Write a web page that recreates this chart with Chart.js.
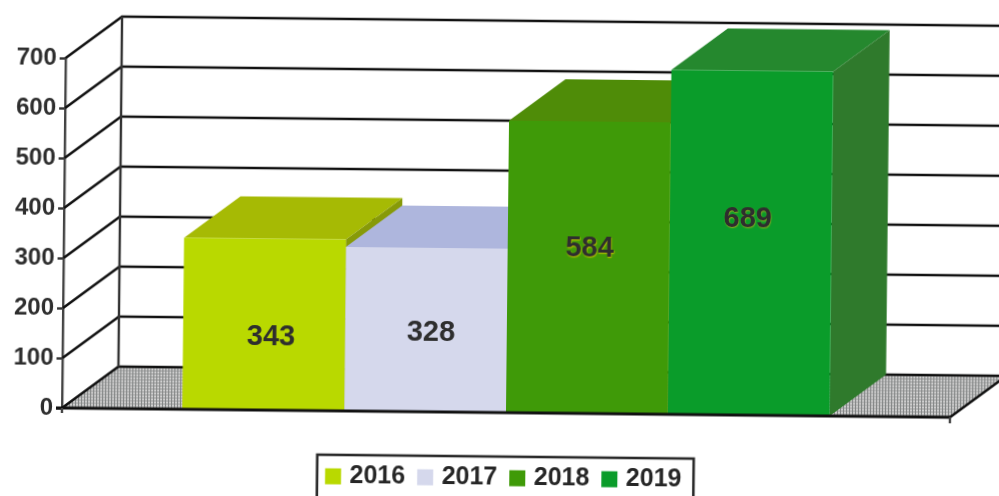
<!DOCTYPE html>
<html><head><meta charset="utf-8">
<style>
html,body{margin:0;padding:0;background:#fff;width:999px;height:496px;overflow:hidden}
#wrap{position:absolute;left:0;top:0;width:999px;height:496px;overflow:hidden}
canvas{position:absolute;left:0;top:0;transform-origin:62px 407px;transform:rotate(0.6deg);filter:blur(0.4px)}
</style>
<script src="https://cdn.jsdelivr.net/npm/chart.js@4"></script>
</head><body><div id="wrap"><canvas id="c" width="1020" height="540" style="width:1020px;height:540px"></canvas></div>
<script>
const categories = ['Total'];
const years = ['2016', '2017', '2018', '2019'];
const values = [343, 328, 584, 689];
const tickValues = [0, 100, 200, 300, 400, 500, 600, 700];
const frontColors = ['#b9d900', '#d5d8ec', '#3f9a08', '#0a9c2a'];
const topColors = ['#a6ba04', '#aeb6dd', '#4f8c08', '#25882e'];
const sideColors = ['#879a08', '#9aa2cc', '#3e7a08', '#2f7a2c'];
const labelShift = [[7, 13], [5, 3], [1, -19], [-3, -24]];
const labelGlow = [null, null, '#c9c400', '#8fae20'];
const DEPTH_X = 56, DEPTH_Y = -42;
const INK = '#111';

function floorPattern(ctx) {
  const p = document.createElement('canvas'); p.width = 3; p.height = 3;
  const g = p.getContext('2d');
  g.fillStyle = '#b4b4b4'; g.fillRect(0, 0, 3, 3);
  g.fillStyle = '#828585'; g.fillRect(0, 0, 1, 3);
  g.fillStyle = '#d2d2d2'; g.fillRect(1, 2, 2, 1);
  return ctx.createPattern(p, 'repeat');
}
function poly(ctx, pts, fill) {
  ctx.beginPath(); pts.forEach((q, i) => i ? ctx.lineTo(q[0], q[1]) : ctx.moveTo(q[0], q[1]));
  ctx.closePath(); ctx.fillStyle = fill; ctx.fill();
}
function seg(ctx, pts, w, col) {
  ctx.beginPath(); pts.forEach((q, i) => i ? ctx.lineTo(q[0], q[1]) : ctx.moveTo(q[0], q[1]));
  ctx.lineWidth = w; ctx.strokeStyle = col; ctx.lineCap = 'butt'; ctx.stroke();
}
const threeD = {
  id: 'threeD',
  beforeDatasetsDraw(chart) {
    const ctx = chart.ctx, y = chart.scales.y, a = chart.chartArea;
    const base = y.getPixelForValue(0), top = y.getPixelForValue(tickValues[tickValues.length - 1]);
    ctx.save();
    poly(ctx, [[a.left, base], [a.left + DEPTH_X, base + DEPTH_Y], [a.right + DEPTH_X, base + DEPTH_Y], [a.right, base]], floorPattern(ctx));
    tickValues.forEach(v => {
      const p = y.getPixelForValue(v);
      seg(ctx, [[a.left, p], [a.left + DEPTH_X, p + DEPTH_Y], [a.right + DEPTH_X, p + DEPTH_Y]], 2.6, INK);
    });
    seg(ctx, [[a.left + DEPTH_X, top + DEPTH_Y], [a.left + DEPTH_X, base + DEPTH_Y]], 2.4, '#333');
    seg(ctx, [[a.right, base], [a.right + DEPTH_X, base + DEPTH_Y]], 2.6, INK);
    chart.getSortedVisibleDatasetMetas().forEach(m => {
      const i = m.index, b = m.data[0], half = b.width / 2;
      const L = b.x - half, R = b.x + half, T = b.y;
      poly(ctx, [[L, T], [L + DEPTH_X, T + DEPTH_Y], [R + DEPTH_X, T + DEPTH_Y], [R, T]], topColors[i]);
      poly(ctx, [[R, T], [R + DEPTH_X, T + DEPTH_Y], [R + DEPTH_X, base + DEPTH_Y], [R, base]], sideColors[i]);
    });
    ctx.restore();
  },
  afterDatasetsDraw(chart) {
    const ctx = chart.ctx, y = chart.scales.y, a = chart.chartArea, base = y.getPixelForValue(0);
    ctx.save();
    seg(ctx, [[a.left - 6, base], [a.right, base]], 3, INK);
    seg(ctx, [[a.left, base], [a.left, base + 5]], 2.4, '#444');
    seg(ctx, [[a.right, base], [a.right, base + 6]], 2.4, '#444');
    ctx.font = 'bold 29px "Liberation Sans", Arial, sans-serif';
    ctx.textAlign = 'center'; ctx.textBaseline = 'middle';
    chart.getSortedVisibleDatasetMetas().forEach(m => {
      const i = m.index, b = m.data[0];
      const cx = b.x + labelShift[i][0], cy = (b.y + base) / 2 + labelShift[i][1];
      if (labelGlow[i]) { ctx.shadowColor = labelGlow[i]; ctx.shadowBlur = 1.5; ctx.shadowOffsetX = 0.5; ctx.shadowOffsetY = 1; }
      else { ctx.shadowColor = 'transparent'; ctx.shadowBlur = 0; ctx.shadowOffsetX = 0; ctx.shadowOffsetY = 0; }
      ctx.fillStyle = '#2e2e2e';
      ctx.fillText(String(values[i]), cx, cy);
    });
    ctx.restore();
    const lg = chart.legend;
    ctx.save();
    ctx.lineWidth = 2.6; ctx.strokeStyle = '#2a2a2a';
    const boxes = lg.legendHitBoxes, last = boxes[boxes.length - 1], L = boxes[0].left - 12, R = last.left + last.width + 12;
    ctx.strokeRect(L, lg.top + 7, R - L, 80);
    ctx.restore();
  }
};
new Chart(document.getElementById('c'), {
  type: 'bar',
  data: {
    labels: categories,
    datasets: years.map((yr, i) => ({ label: yr, data: [values[i]], backgroundColor: frontColors[i], borderWidth: 0 }))
  },
  options: {
    responsive: false, animation: false,
    layout: { padding: { left: 0, right: 70, top: 58, bottom: 44 } },
    datasets: { bar: { categoryPercentage: 0.729, barPercentage: 1 } },
    scales: {
      x: { display: true, grid: { display: false }, border: { display: false }, ticks: { display: false },
           afterFit(s) { s.height = 37; } },
      y: { min: 0, max: 700, afterFit(s) { s.width = 62; },
           afterBuildTicks(s) { s.ticks = tickValues.map(v => ({ value: v })); },
           grid: { drawOnChartArea: false, tickLength: 6, tickColor: '#333', tickWidth: 2.4 },
           border: { display: true, color: '#444', width: 2.4 },
           ticks: { padding: 3, color: '#2e2e2e', font: { family: '"Liberation Sans", Arial, sans-serif', size: 24, weight: 'bold' } } }
    },
    plugins: {
      tooltip: { enabled: false },
      legend: { position: 'bottom', fullSize: false,
        labels: { usePointStyle: true, pointStyle: 'rect', boxWidth: 8, boxHeight: 16, padding: 16, color: '#262626',
                  font: { family: '"Liberation Sans", Arial, sans-serif', size: 25, weight: 'bold' } } }
    }
  },
  plugins: [threeD]
});
</script></body></html>
